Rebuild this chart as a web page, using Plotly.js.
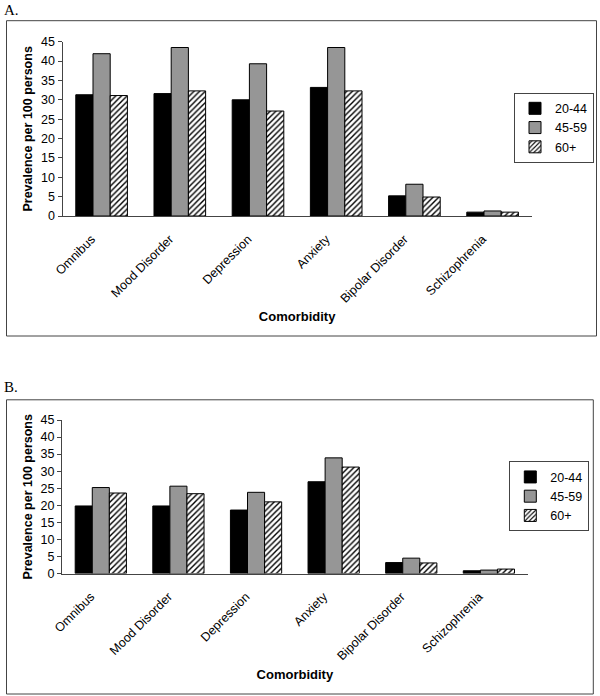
<!DOCTYPE html>
<html>
<head>
<meta charset="utf-8">
<script src="https://cdn.plot.ly/plotly-3.0.1.min.js"></script>
<style>
html,body{margin:0;padding:0;background:#fff;}
#chart{width:600px;height:696px;}
</style>
</head>
<body>
<div id="chart"></div>
<script>
// ---- data ----
const categories = ["Omnibus", "Mood Disorder", "Depression", "Anxiety", "Bipolar Disorder", "Schizophrenia"];
const groupNames = ["20-44", "45-59", "60+"];
const yTickVals = [0, 5, 10, 15, 20, 25, 30, 35, 40, 45];
const panelLabels = ["A.", "B."];
const xTitle = "Comorbidity";
const yTitle = "Prevalence per 100 persons";

const A_20_44 = [31.3, 31.6, 30.0, 33.2, 5.2, 1.0];
const A_45_59 = [41.9, 43.5, 39.3, 43.5, 8.2, 1.3];
const A_60plus = [31.1, 32.3, 27.1, 32.3, 4.9, 1.0];

const B_20_44 = [19.8, 19.8, 18.6, 26.9, 3.2, 0.8];
const B_45_59 = [25.2, 25.6, 23.8, 33.9, 4.5, 1.0];
const B_60plus = [23.6, 23.4, 21.0, 31.2, 3.1, 1.3];

// ---- styling ----
const W = 600, H = 696;
const FONT = "Liberation Sans, Arial, sans-serif";
const AXC = "#444444";
const styles = [
  {color: "#000000", line: {color: "#000000", width: 1}},
  {color: "#969696", line: {color: "#000000", width: 1}},
  {color: "#ffffff", line: {color: "#000000", width: 1},
   pattern: {shape: "/", fgcolor: "#000000", bgcolor: "#ffffff", size: 4, solidity: 0.35}}
];

function px2x(px) { return px / W; }
function px2y(py) { return 1 - py / H; }

const seriesA = [A_20_44, A_45_59, A_60plus];
const seriesB = [B_20_44, B_45_59, B_60plus];

const traces = [];
seriesA.forEach((vals, i) => {
  traces.push({type: "bar", x: categories, y: vals, name: groupNames[i],
    xaxis: "x", yaxis: "y", legend: "legend", marker: styles[i], hoverinfo: "x+y+name"});
});
seriesB.forEach((vals, i) => {
  traces.push({type: "bar", x: categories, y: vals, name: groupNames[i],
    xaxis: "x2", yaxis: "y2", legend: "legend2", marker: styles[i], hoverinfo: "x+y+name"});
});

function xAxis(domain, anchor) {
  return {
    domain: domain, anchor: anchor, type: "category",
    showline: true, linecolor: AXC, linewidth: 1,
    ticks: "", tickangle: -45, automargin: false,
    ticklabelstandoff: 10, ticklabelshift: -10,
    tickfont: {family: FONT, size: 12.5, color: "#000"},
    showgrid: false, zeroline: false,
    title: {text: xTitle, standoff: 7, font: {family: FONT, size: 13, color: "#000", weight: "bold"}}
  };
}
function yAxis(domain, anchor) {
  return {
    domain: domain, anchor: anchor, range: [0, 45],
    tickvals: yTickVals, ticktext: yTickVals.map(String),
    showline: true, linecolor: AXC, linewidth: 1,
    ticks: "outside", ticklen: 4, tickcolor: AXC, automargin: false,
    tickfont: {family: FONT, size: 12.5, color: "#000"},
    showgrid: false, zeroline: false,
    title: {text: yTitle, standoff: 5, font: {family: FONT, size: 12.5, color: "#000", weight: "bold"}}
  };
}

const legendBase = {
  xanchor: "right", yanchor: "middle",
  bgcolor: "#ffffff", bordercolor: AXC, borderwidth: 1,
  font: {family: FONT, size: 12.5, color: "#000"},
  traceorder: "normal", tracegroupgap: 0
};

const layout = {
  width: W, height: H,
  margin: {l: 0, r: 0, t: 0, b: 0},
  paper_bgcolor: "#ffffff", plot_bgcolor: "#ffffff",
  barmode: "group", bargap: 0.34, bargroupgap: 0,
  font: {family: FONT, color: "#000"},
  showlegend: true,
  xaxis: xAxis([px2x(62.5), px2x(531.7)], "y"),
  yaxis: yAxis([px2y(216), px2y(41.7)], "x"),
  xaxis2: xAxis([px2x(62), px2x(527.7)], "y2"),
  yaxis2: yAxis([px2y(573.5), px2y(420)], "x2"),
  legend: Object.assign({}, legendBase, {x: px2x(594), y: px2y(127.7)}),
  legend2: Object.assign({}, legendBase, {x: px2x(589.3), y: px2y(496.3)}),
  shapes: [
    {type: "rect", xref: "paper", yref: "paper",
     x0: px2x(6.5), x1: px2x(596.5), y0: px2y(336), y1: px2y(20.7),
     line: {color: AXC, width: 1}, fillcolor: "rgba(0,0,0,0)", layer: "below"},
    {type: "rect", xref: "paper", yref: "paper",
     x0: px2x(6.5), x1: px2x(593.3), y0: px2y(694), y1: px2y(399.8),
     line: {color: AXC, width: 1}, fillcolor: "rgba(0,0,0,0)", layer: "below"}
  ],
  annotations: [
    {text: panelLabels[0], xref: "paper", yref: "paper", x: px2x(2), y: px2y(9.5),
     xanchor: "left", yanchor: "middle", showarrow: false,
     font: {family: "Liberation Serif, Times New Roman, serif", size: 15, color: "#000"}},
    {text: panelLabels[1], xref: "paper", yref: "paper", x: px2x(2), y: px2y(387),
     xanchor: "left", yanchor: "middle", showarrow: false,
     font: {family: "Liberation Serif, Times New Roman, serif", size: 15, color: "#000"}}
  ]
};

Plotly.newPlot("chart", traces, layout, {displayModeBar: false, staticPlot: true});
</script>
</body>
</html>
